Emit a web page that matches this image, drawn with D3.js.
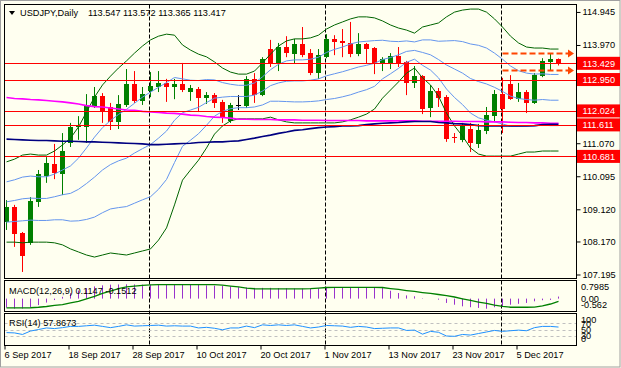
<!DOCTYPE html>
<html>
<head>
<meta charset="utf-8">
<script src="https://cdnjs.cloudflare.com/ajax/libs/d3/7.8.5/d3.min.js"></script>
<style>
  body{ margin:0; background:#fffff0; }
  svg{ display:block; font-family:"Liberation Sans", Arial, sans-serif; font-size:9.2px; }
  .axis path{ display:none; }
  .axis line{ stroke:#000; }
  .axis text{ fill:#000; font-size:9.2px; font-family:"Liberation Sans", Arial, sans-serif; }
</style>
</head>
<body>
<svg id="chart" width="621" height="368"></svg>
<script>
  // USDJPY daily bars, 6 Sep .. 12 Dec 2017
  var opens = [108.74,109.19,108.42,108.13,109.33,110.10,110.46,110.16,111.08,111.55,
    111.55,112.17,112.46,112.14,111.70,112.20,112.82,112.32,112.61,112.73,
    112.85,112.73,112.82,112.58,112.67,112.40,112.49,112.29,111.72,112.20,
    112.17,112.97,112.49,113.85,113.44,113.91,113.70,114.00,113.73,113.14,
    113.61,114.15,114.09,114.03,113.70,114.00,113.88,113.44,113.44,113.64,
    113.47,112.85,113.05,112.11,112.61,112.43,111.24,111.16,111.49,111.05,
    111.43,111.87,112.52,112.82,112.37,112.58,112.26,113.05,113.47,113.547];
  var highs = [109.39,109.25,108.45,109.48,110.28,110.66,111.05,111.37,111.67,111.87,
    112.52,112.73,112.55,112.26,112.49,113.26,113.20,112.73,113.17,113.20,
    112.97,112.97,113.44,112.79,112.73,112.58,112.55,112.35,112.26,112.49,
    113.05,113.14,113.61,114.12,114.03,114.23,114.15,114.50,113.85,113.85,
    114.29,114.26,114.44,114.65,114.32,114.03,113.91,113.61,113.73,113.91,
    113.50,113.35,113.08,112.79,112.70,112.49,111.37,111.67,111.67,111.64,
    112.14,112.64,113.00,113.08,112.85,112.64,113.14,113.58,113.73,113.572];
  var lows = [108.51,108.01,107.27,108.07,109.19,109.90,110.01,109.54,110.96,111.17,
    111.08,112.11,111.67,111.46,111.49,112.14,112.26,112.20,112.43,112.58,
    112.29,112.37,112.58,112.32,111.99,112.23,112.11,111.67,111.67,112.05,
    112.11,112.26,112.46,113.32,113.20,113.61,113.41,113.61,113.08,112.97,
    113.58,113.67,113.61,113.61,113.64,113.41,113.11,113.20,113.26,113.32,
    112.49,112.70,111.93,111.84,112.14,111.11,111.08,111.10,110.81,110.93,
    111.34,111.70,111.37,112.35,112.29,111.96,112.23,113.02,113.23,113.365];
  var closes = [109.19,108.39,107.74,109.36,110.16,110.49,110.19,110.84,111.55,111.58,
    112.20,112.46,112.02,111.70,112.23,112.82,112.32,112.52,112.76,112.85,
    112.73,112.82,112.64,112.70,112.40,112.49,112.26,111.84,112.20,112.20,
    112.97,112.49,113.56,113.44,113.91,113.73,114.00,113.67,113.14,113.67,
    114.15,114.06,114.03,113.70,114.00,113.85,113.44,113.56,113.64,113.44,
    112.85,113.05,112.08,112.61,112.40,111.19,111.21,111.58,111.08,111.46,
    111.90,112.52,112.08,112.37,112.58,112.26,113.08,113.50,113.56,113.417];

  // bollinger bands (2 dev green, 1 dev blue, shared middle)
  var bbUpper2 = [110.52,110.60,110.72,110.75,110.72,110.72,110.84,111.02,111.22,111.55,
    111.99,112.43,112.79,113.05,113.29,113.50,113.73,113.94,114.12,114.23,
    114.29,114.26,113.97,113.82,113.70,113.62,113.47,113.29,113.17,113.11,
    113.11,113.20,113.44,113.70,113.94,114.09,114.15,114.15,114.18,114.26,
    114.44,114.56,114.65,114.74,114.80,114.80,114.77,114.68,114.56,114.47,
    114.41,114.32,114.50,114.56,114.62,114.80,114.94,115.00,115.03,115.03,
    114.94,114.74,114.50,114.23,114.03,113.91,113.88,113.88,113.85,113.85];
  var bbLower2 = [108.15,108.15,108.13,108.15,108.15,108.15,108.13,108.07,107.95,107.86,
    107.77,107.71,107.77,107.83,107.80,107.77,107.83,107.89,107.95,108.21,
    108.57,109.25,109.98,110.28,110.57,110.93,111.34,111.58,111.73,111.79,
    111.79,111.79,111.79,111.84,111.76,111.70,111.67,111.67,111.67,111.67,
    111.67,111.67,111.70,111.76,111.84,111.93,112.08,112.40,112.64,112.88,
    113.14,113.29,113.00,112.79,112.46,111.96,111.58,111.28,110.93,110.75,
    110.69,110.69,110.69,110.69,110.75,110.81,110.81,110.84,110.84,110.84];
  var bbMiddle = [109.34,109.38,109.43,109.45,109.44,109.44,109.49,109.55,109.59,109.71,
    109.88,110.07,110.28,110.44,110.55,110.63,110.78,110.91,111.03,111.22,
    111.43,111.75,111.97,112.05,112.13,112.27,112.40,112.43,112.45,112.45,
    112.45,112.49,112.61,112.77,112.85,112.90,112.91,112.91,112.93,112.97,
    113.06,113.12,113.18,113.25,113.32,113.37,113.43,113.54,113.60,113.68,
    113.78,113.81,113.75,113.68,113.54,113.38,113.26,113.14,112.98,112.89,
    112.82,112.72,112.60,112.46,112.39,112.36,112.34,112.36,112.34,112.34];
  var bbUpper1 = [109.93,109.99,110.07,110.10,110.08,110.08,110.16,110.28,110.40,110.63,
    110.93,111.25,111.53,111.74,111.92,112.07,112.25,112.43,112.58,112.72,
    112.86,113.01,112.97,112.93,112.92,112.95,112.94,112.86,112.81,112.78,
    112.78,112.85,113.03,113.24,113.40,113.50,113.53,113.53,113.55,113.61,
    113.75,113.84,113.91,114.00,114.06,114.08,114.10,114.11,114.08,114.07,
    114.09,114.06,114.12,114.12,114.08,114.09,114.10,114.07,114.00,113.96,
    113.88,113.73,113.55,113.35,113.21,113.14,113.11,113.12,113.10,113.10];
  var bbLower1 = [108.74,108.76,108.78,108.80,108.79,108.79,108.81,108.81,108.77,108.78,
    108.82,108.89,109.02,109.13,109.17,109.20,109.30,109.40,109.49,109.71,
    110.00,110.50,110.98,111.16,111.35,111.60,111.87,112.01,112.09,112.12,
    112.12,112.14,112.20,112.31,112.31,112.30,112.29,112.29,112.30,112.32,
    112.36,112.39,112.44,112.50,112.58,112.65,112.75,112.97,113.12,113.28,
    113.46,113.55,113.37,113.23,113.00,112.67,112.42,112.21,111.96,111.82,
    111.75,111.70,111.64,111.57,111.57,111.58,111.58,111.60,111.59,111.59];
  var ma100 = [112.42,112.39,112.38,112.36,112.35,112.33,112.31,112.29,112.26,112.23,
    112.18,112.15,112.14,112.11,112.08,112.05,112.04,112.01,111.99,111.98,
    111.96,111.95,111.93,111.90,111.89,111.86,111.84,111.83,111.81,111.78,
    111.78,111.77,111.77,111.77,111.76,111.76,111.76,111.75,111.75,111.75,
    111.74,111.74,111.74,111.74,111.74,111.73,111.73,111.73,111.73,111.73,
    111.73,111.73,111.72,111.72,111.72,111.72,111.72,111.71,111.71,111.71,
    111.70,111.70,111.70,111.69,111.68,111.68,111.67,111.67,111.66,111.66];
  var ma200 = [111.19,111.18,111.17,111.16,111.15,111.15,111.14,111.13,111.13,111.12,
    111.11,111.11,111.10,111.09,111.08,111.07,111.06,111.05,111.03,111.03,
    111.04,111.05,111.06,111.07,111.09,111.10,111.11,111.11,111.13,111.14,
    111.18,111.22,111.27,111.31,111.36,111.40,111.45,111.47,111.50,111.53,
    111.55,111.56,111.58,111.58,111.59,111.62,111.64,111.66,111.67,111.68,
    111.70,111.71,111.71,111.71,111.68,111.67,111.65,111.64,111.62,111.59,
    111.58,111.58,111.58,111.58,111.58,111.58,111.59,111.62,111.63,111.63];

  var macdMain = [-0.50,-0.56,-0.55,-0.47,-0.36,-0.22,-0.08,0.10,0.30,0.45,
    0.58,0.68,0.74,0.78,0.79,0.7985,0.79,0.78,0.78,0.78,
    0.78,0.78,0.77,0.77,0.76,0.74,0.72,0.71,0.68,0.64,
    0.62,0.60,0.60,0.60,0.59,0.58,0.56,0.56,0.55,0.57,
    0.62,0.63,0.63,0.63,0.63,0.63,0.62,0.60,0.44,0.31,
    0.18,0.13,0.02,0.00,-0.06,-0.24,-0.34,-0.43,-0.48,-0.52,
    -0.562,-0.48,-0.43,-0.34,-0.29,-0.24,-0.15,-0.09,-0.07,0.1147];
  var macdSignal = [-0.52,-0.52,-0.52,-0.51,-0.48,-0.44,-0.38,-0.33,-0.24,-0.16,
    -0.02,0.12,0.29,0.42,0.56,0.65,0.70,0.74,0.77,0.78,
    0.78,0.78,0.78,0.78,0.78,0.78,0.78,0.75,0.70,0.65,
    0.59,0.55,0.54,0.54,0.54,0.54,0.54,0.54,0.56,0.59,
    0.62,0.63,0.63,0.63,0.63,0.63,0.63,0.62,0.56,0.51,
    0.45,0.40,0.34,0.29,0.23,0.17,0.09,-0.01,-0.10,-0.19,
    -0.27,-0.36,-0.43,-0.48,-0.48,-0.48,-0.47,-0.41,-0.30,-0.1512];
  var rsi = [40,39,34,45,50,55,53,56,60,60,
    62,64,60,56,60,65,61,62,63,64,
    61,62,61,61,55,57,54,49,55,55,
    61,56,65,63,65,63,65,60,55,58,
    63,62,61,57,60,58,53,54,55,55,
    47,48,35,44,41,29,28,34,32,37,
    42,47,44,46,48,46,56,60,60,57.8673];

  var priceTicks = [114.945, 113.970, 111.070, 110.095, 109.120, 108.170, 107.195];
  var levels = [113.429, 112.950, 112.024, 111.611, 110.681];
  var arrowPrices = [113.72, 113.23];
  var arrowBars = [62, 71];
  var monthBars = [18, 40, 62];
  var dateBars = [0, 8, 16, 24, 32, 40, 48, 56, 64];
  var dateLabels = ["6 Sep 2017","18 Sep 2017","28 Sep 2017","10 Oct 2017","20 Oct 2017",
    "1 Nov 2017","13 Nov 2017","23 Nov 2017","5 Dec 2017"];
  var macdTicks = [0.7985, 0, -0.562];
  var macdTickText = ["0.7985", "0.00", "-0.562"];
  var rsiTicks = [100, 70, 50, 30, 0];
  var rsiLevels = [70, 50, 30];

  var svg = d3.select("#chart");
  var L = 4.5, R = 576.5;
  var panes = {
    main: [4.5, 278.5],
    macd: [280.5, 311.5],
    rsi: [313.5, 345.5]
  };

  var x = d3.scaleLinear().domain([0, 69]).range([6, 558]);
  var y = d3.scaleLinear().domain([107.077, 115.165]).range([panes.main[1], panes.main[0]]);
  var yMacd = d3.scaleLinear().domain([-0.562, 0.7985]).range([308.7, 284.3]);
  var yRsi = d3.scaleLinear().domain([0, 100]).range([345, 314]);
  function bx(i){ return Math.round(x(i)) + 0.5; }

  svg.append("rect").attr("width", 621).attr("height", 368).attr("fill", "#fffff0");
  svg.append("rect").attr("x", 0.5).attr("y", 0.5).attr("width", 619.5).attr("height", 366.5)
    .attr("fill", "none").attr("stroke", "#a0a0a0");

  var defs = svg.append("defs");
  Object.keys(panes).forEach(function(k){
    defs.append("clipPath").attr("id", "clip_" + k).append("rect")
      .attr("x", L).attr("y", panes[k][0]).attr("width", R - L).attr("height", panes[k][1] - panes[k][0]);
  });

  // month separators
  monthBars.forEach(function(b){
    svg.append("line")
      .attr("x1", bx(b) - 1).attr("x2", bx(b) - 1)
      .attr("y1", panes.main[0]).attr("y2", panes.rsi[1])
      .attr("stroke", "#000").attr("stroke-dasharray", "4,2");
  });

  // ---- main pane ----
  var bars = d3.range(closes.length);
  function candleColor(i){
    if (closes[i] > opens[i]) return "#008000";
    if (closes[i] < opens[i]) return "#ff0000";
    return "#000";
  }
  var gMain = svg.append("g").attr("clip-path", "url(#clip_main)");
  gMain.selectAll(".wick").data(bars).join("line").attr("class", "wick")
    .attr("x1", bx).attr("x2", bx)
    .attr("y1", function(i){ return y(highs[i]); })
    .attr("y2", function(i){ return y(lows[i]); })
    .attr("stroke", candleColor);
  gMain.selectAll(".body").data(bars).join("rect").attr("class", "body")
    .attr("x", function(i){ return bx(i) - 2.5; })
    .attr("width", 5)
    .attr("y", function(i){ return y(Math.max(opens[i], closes[i])); })
    .attr("height", function(i){ return Math.max(1, Math.abs(y(opens[i]) - y(closes[i]))); })
    .attr("fill", candleColor)
    .attr("shape-rendering", "crispEdges");

  var lines = [
    [bbUpper2, "#006400", 1], [bbLower2, "#006400", 1],
    [bbUpper1, "#6495ed", 1], [bbMiddle, "#6495ed", 1], [bbLower1, "#6495ed", 1],
    [ma100, "#ff00ff", 1.6], [ma200, "#000080", 1.6]
  ];
  var priceLine = d3.line().x(function(d, i){ return bx(i); }).y(function(d){ return y(d); });
  lines.forEach(function(l){
    gMain.append("path").datum(l[0]).attr("d", priceLine)
      .attr("fill", "none").attr("stroke", l[1]).attr("stroke-width", l[2]);
  });

  gMain.selectAll(".level").data(levels).join("line").attr("class", "level")
    .attr("x1", L).attr("x2", R)
    .attr("y1", function(d){ return Math.round(y(d)) + 0.5; })
    .attr("y2", function(d){ return Math.round(y(d)) + 0.5; })
    .attr("stroke", "#ff0000").attr("stroke-width", 1.2);

  arrowPrices.forEach(function(p){
    var yy = Math.round(y(p)) + 0.5, tip = x(arrowBars[1]);
    gMain.append("line")
      .attr("x1", bx(arrowBars[0])).attr("x2", tip - 6)
      .attr("y1", yy).attr("y2", yy)
      .attr("stroke", "#ff4500").attr("stroke-width", 2).attr("stroke-dasharray", "6,3");
    gMain.append("path")
      .attr("d", "M" + (tip - 6) + "," + (yy - 4) + "L" + tip + "," + yy + "L" + (tip - 6) + "," + (yy + 4) + "Z")
      .attr("fill", "#ff4500");
  });

  // ---- MACD pane ----
  var gMacd = svg.append("g").attr("clip-path", "url(#clip_macd)");
  gMacd.selectAll(".hist").data(bars).join("line").attr("class", "hist")
    .attr("x1", bx).attr("x2", bx)
    .attr("y1", yMacd(0))
    .attr("y2", function(i){ return yMacd(macdMain[i]); })
    .attr("stroke", "#9932cc");
  gMacd.append("path").datum(macdSignal)
    .attr("d", d3.line().x(function(d, i){ return bx(i); }).y(function(d){ return yMacd(d); }))
    .attr("fill", "none").attr("stroke", "#008000").attr("stroke-width", 1.3);

  // ---- RSI pane ----
  var gRsi = svg.append("g").attr("clip-path", "url(#clip_rsi)");
  rsiLevels.forEach(function(l){
    gRsi.append("line").attr("x1", L).attr("x2", R)
      .attr("y1", Math.round(yRsi(l)) + 0.5).attr("y2", Math.round(yRsi(l)) + 0.5)
      .attr("stroke", "#c0c0c0").attr("stroke-dasharray", "3,3");
  });
  gRsi.append("path").datum(rsi)
    .attr("d", d3.line().x(function(d, i){ return bx(i); }).y(function(d){ return yRsi(d); }))
    .attr("fill", "none").attr("stroke", "#1e90ff").attr("stroke-width", 1);

  // frames
  Object.keys(panes).forEach(function(k){
    svg.append("rect").attr("x", L).attr("y", panes[k][0])
      .attr("width", R - L).attr("height", panes[k][1] - panes[k][0])
      .attr("fill", "none").attr("stroke", "#000");
  });

  // price axis
  svg.append("g").attr("class", "axis").attr("transform", "translate(" + R + ",0)")
    .call(d3.axisRight(y).tickValues(priceTicks).tickSize(4).tickPadding(2)
      .tickFormat(function(d){ return d.toFixed(3); }));

  levels.forEach(function(p){
    var yy = y(p);
    svg.append("rect").attr("x", 577).attr("y", yy - 6.5).attr("width", 43).attr("height", 13)
      .attr("fill", "#ff0000");
    svg.append("text").attr("x", 582.5).attr("y", yy).attr("dy", "0.35em")
      .attr("fill", "#fff").text(p.toFixed(3));
  });

  // sub-window scale labels, kept inside their pane like the terminal does
  function paneLabels(scale, ticks, texts, pane){
    ticks.forEach(function(v, k){
      var yy = Math.max(pane[0] + 6.5, Math.min(pane[1] - 6.5, scale(v)));
      svg.append("text").attr("x", 581).attr("y", yy).attr("dy", "0.35em").text(texts[k]);
    });
  }
  paneLabels(yMacd, macdTicks, macdTickText, panes.macd);
  paneLabels(yRsi, rsiTicks, rsiTicks.map(String), panes.rsi);

  // time axis
  var xAxis = svg.append("g").attr("class", "axis").attr("transform", "translate(-1.5," + panes.rsi[1] + ")")
    .call(d3.axisBottom(x).tickValues(dateBars).tickSize(4).tickPadding(2)
      .tickFormat(function(d, k){ return dateLabels[k]; }));
  xAxis.selectAll("text").attr("text-anchor", "start").attr("x", -0.5);

  // titles
  svg.append("path").attr("d", "M9,11L15,11L12,15Z").attr("fill", "#000");
  svg.append("text").attr("x", 20).attr("y", 16).attr("fill", "#000").text("USDJPY,Daily");
  svg.append("text").attr("x", 88).attr("y", 16).attr("fill", "#000")
    .text([opens[69], highs[69], lows[69], closes[69]].map(function(v){ return v.toFixed(3); }).join(" "));
  svg.append("text").attr("x", 9).attr("y", 293.5).attr("fill", "#000")
    .text("MACD(12,26,9) " + macdMain[69].toFixed(4) + " " + macdSignal[69].toFixed(4));
  svg.append("text").attr("x", 9).attr("y", 326).attr("fill", "#000")
    .text("RSI(14) " + rsi[69].toFixed(4));
</script>
</body>
</html>
